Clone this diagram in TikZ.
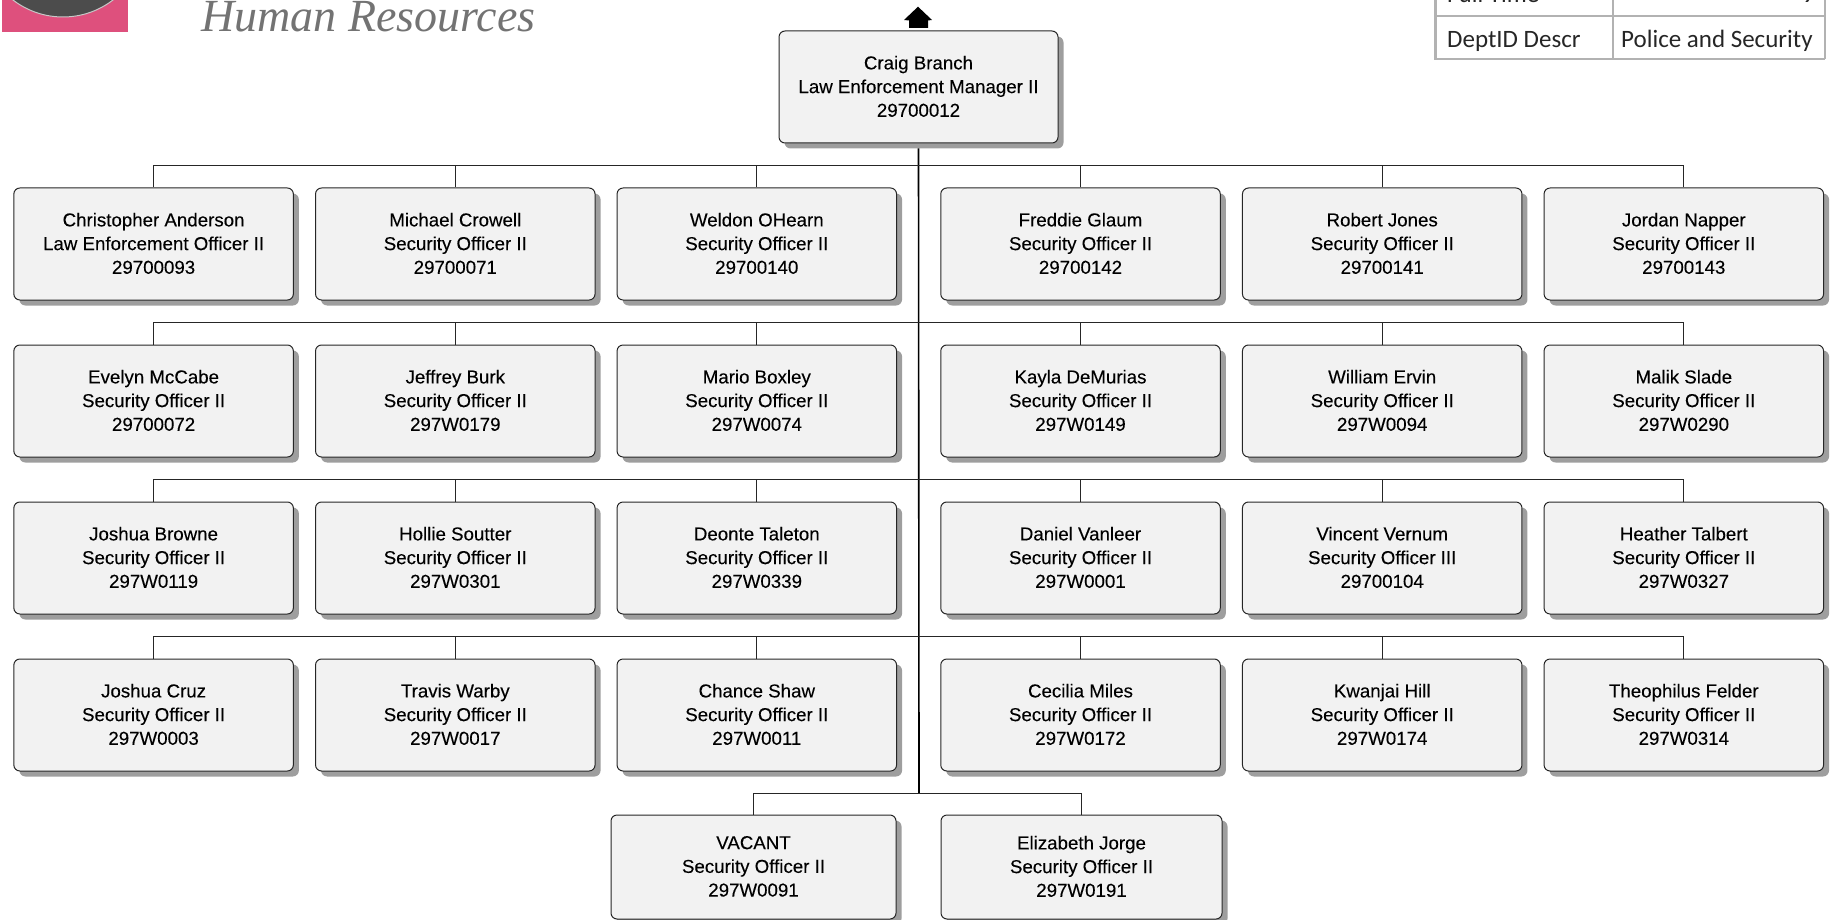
\documentclass[tikz,border=0pt]{standalone}
\usepackage{fontspec}
\setmainfont{Liberation Sans}
\newfontfamily\boxfont[FakeBold=0.15]{Liberation Sans}
\newfontfamily\hrfont{Liberation Serif}
\newfontfamily\tabfont{Carlito}
\usetikzlibrary{shadows,calc}
\tikzset{x=1pt,y=-1pt,
 person/.style={draw=black!85,line width=1pt,fill=black!5,rounded corners=6pt,minimum height=112pt,inner sep=0pt,align=center,text depth=1.4pt,
   font=\boxfont\fontsize{18.7}{23.7}\selectfont,text=black,
   drop shadow={shadow xshift=5.5pt,shadow yshift=-5.5pt,fill=black!38,opacity=1}},
 bus/.style={draw=black!85,line width=1pt},
 trunk/.style={draw=black,line width=1.6pt},
 gridl/.style={draw=black!30,line width=1.3pt},
 tabtext/.style={font=\tabfont\fontsize{25}{28}\selectfont,text=black!85,inner sep=0pt},
}
\newcommand{\pers}[6]{\node[person,minimum width=#3pt] (#1) at (#2) {#4\\#5\\#6};}
\begin{document}
\begin{tikzpicture}
\useasboundingbox (0,0) rectangle (1833,920);
% logo
\begin{scope}
\clip (0,0) rectangle (1833,920);
\fill[fill={rgb,255:red,222;green,80;blue,125}] (1.5,0) rectangle (128,32.5);
\fill[fill=black!70,draw=black!22,line width=1pt] (63,-65) circle (82);
\node[anchor=base west,inner sep=0pt,text=black!55,font=\hrfont\itshape\fontsize{46}{50}\selectfont] (hr) at (201,32) {Human Resources};
% table
\node[tabtext,anchor=base west] (t1) at (1447,3) {Full Time};
\node[tabtext,anchor=base east] (t2) at (1815,3) {9};
\node[tabtext,anchor=base west] (t3) at (1447,47.5) {DeptID Descr};
\node[tabtext,anchor=base west] (t4) at (1621,47.5) {Police and Security};
\draw[gridl,line width=3pt] (1435,0) -- (1435,59);
\draw[gridl] (1434,16) -- (1825,16);
\draw[gridl] (1434,59) -- (1825,59);
\draw[gridl] (1613,0) -- (1613,59);
\draw[gridl,line width=2pt] (1824.5,0) -- (1824.5,59);
\end{scope}
% nodes
\pers{top}{918.5,87}{279}{Craig Branch}{Law Enforcement Manager II}{29700012}
\coordinate (b1) at (919,165.5);
\coordinate (b2) at (919,322.5);
\coordinate (b3) at (919,479.5);
\coordinate (b4) at (919,636.5);
\coordinate (b5) at (919,793);
\draw[trunk] (top.south) ++(0,5) -- (b5);
\newcommand{\nrow}[7]{%
\foreach \cx/\nm/\tt/\idn [count=\i] in {#2}{
  \pers{n#1\i}{\cx,#3}{279.5}{\nm}{\tt}{\idn}
  \draw[bus] (n#1\i.north) |- (b#1);
}}
\nrow{1}{153.6/Christopher Anderson/Law Enforcement Officer II/29700093,455.3/Michael Crowell/Security Officer II/29700071,756.8/Weldon OHearn/Security Officer II/29700140,1080.5/Freddie Glaum/Security Officer II/29700142,1382.2/Robert Jones/Security Officer II/29700141,1683.8/Jordan Napper/Security Officer II/29700143}{244}{}{}{}{}
\nrow{2}{153.6/Evelyn McCabe/Security Officer II/29700072,455.3/Jeffrey Burk/Security Officer II/297W0179,756.8/Mario Boxley/Security Officer II/297W0074,1080.5/Kayla DeMurias/Security Officer II/297W0149,1382.2/William Ervin/Security Officer II/297W0094,1683.8/Malik Slade/Security Officer II/297W0290}{401}{}{}{}{}
\nrow{3}{153.6/Joshua Browne/Security Officer II/297W0119,455.3/Hollie Soutter/Security Officer II/297W0301,756.8/Deonte Taleton/Security Officer II/297W0339,1080.5/Daniel Vanleer/Security Officer II/297W0001,1382.2/Vincent Vernum/Security Officer III/29700104,1683.8/Heather Talbert/Security Officer II/297W0327}{558}{}{}{}{}
\nrow{4}{153.6/Joshua Cruz/Security Officer II/297W0003,455.3/Travis Warby/Security Officer II/297W0017,756.8/Chance Shaw/Security Officer II/297W0011,1080.5/Cecilia Miles/Security Officer II/297W0172,1382.2/Kwanjai Hill/Security Officer II/297W0174,1683.8/Theophilus Felder/Security Officer II/297W0314}{715}{}{}{}{}
% bottom row
\node[person,minimum width=285pt,minimum height=104pt] (v) at (753.5,867) {VACANT\\Security Officer II\\297W0091};
\node[person,minimum width=281pt,minimum height=104pt] (e) at (1081.5,867) {Elizabeth Jorge\\Security Officer II\\297W0191};
\draw[bus] (v.north) |- (b5);
\draw[bus] (e.north) |- (b5);
% up arrow
\coordinate (ua) at (918,6.7);
\fill[black] (ua) -- (932,20) -- (928,20.5) -- (928,28) -- (909,28) -- (909,20.5) -- (904,20) -- cycle;
\end{tikzpicture}
\end{document}
